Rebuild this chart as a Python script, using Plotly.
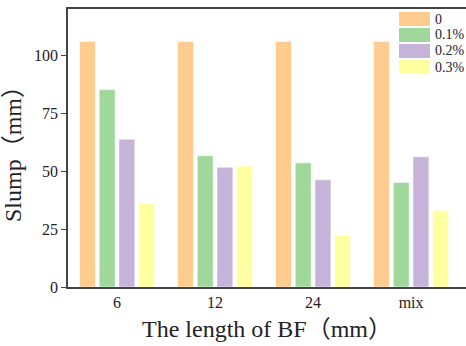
import plotly.graph_objects as go

categories = ["6", "12", "24", "mix"]
series_names = ["0", "0.1%", "0.2%", "0.3%"]
values_0 = [106, 106, 106, 106]
values_01 = [85.2, 56.7, 53.6, 45.1]
values_02 = [63.8, 51.7, 46.3, 56.2]
values_03 = [36.2, 52.2, 22.3, 33.0]
colors = ["#FFCC8F", "#A0D89C", "#C5B3D9", "#FFFFA0"]
y_ticks = [0, 25, 50, 75, 100]

all_values = [values_0, values_01, values_02, values_03]

W, H = 466, 346
ml, mr, mt, mb = 68, 0, 9, 59
pw, ph = W - ml - mr, H - mt - mb

fig = go.Figure()
for name, vals, col in zip(series_names, all_values, colors):
    fig.add_trace(go.Bar(x=categories, y=vals, name=name,
                         marker=dict(color=col, line=dict(color="rgba(255,255,255,0.6)", width=1))))

font_family = "Liberation Serif, Noto Sans CJK SC, serif"

# manual legend with large swatches
def px_x(x):
    return (x - ml) / pw
def px_y(y):
    return 1 - (y - mt) / ph

shapes = []
annotations = []
for i, (name, col) in enumerate(zip(series_names, colors)):
    y0 = 12 + i * 16
    shapes.append(dict(type="rect", xref="paper", yref="paper",
                       x0=px_x(399), x1=px_x(430), y0=px_y(y0 + 14), y1=px_y(y0),
                       fillcolor=col, line=dict(width=0)))
    annotations.append(dict(xref="paper", yref="paper", x=px_x(433), y=px_y(y0 + 7),
                            text=name, showarrow=False, xanchor="left", yanchor="middle",
                            font=dict(family=font_family, size=14, color="#222")))

fig.update_layout(
    width=W, height=H,
    margin=dict(l=ml, r=mr, t=mt, b=mb),
    paper_bgcolor="white", plot_bgcolor="white",
    barmode="group", bargap=0.196, bargroupgap=0.19,
    showlegend=False,
    shapes=shapes, annotations=annotations,
    font=dict(family=font_family, color="#222"),
    xaxis=dict(range=[-0.5, 3.56], showline=True, linecolor="#444", linewidth=1.5,
               mirror=True, ticks="", showgrid=False, zeroline=False,
               tickfont=dict(size=16, family=font_family),
               title=dict(text="The length of BF（mm）", font=dict(size=24, family=font_family), standoff=10)),
    yaxis=dict(range=[0, 120], tickvals=y_ticks, showline=True, linecolor="#444", linewidth=1.5,
               ticks="outside", ticklen=5, tickcolor="#444", showgrid=False, zeroline=False,
               tickfont=dict(size=16, family=font_family),
               title=dict(text="Slump（mm）", font=dict(size=24, family=font_family), standoff=6)),
)

fig.write_html("out.html", config={"displayModeBar": False},
               post_script="document.body.style.margin='0';document.body.style.overflow='hidden';")
